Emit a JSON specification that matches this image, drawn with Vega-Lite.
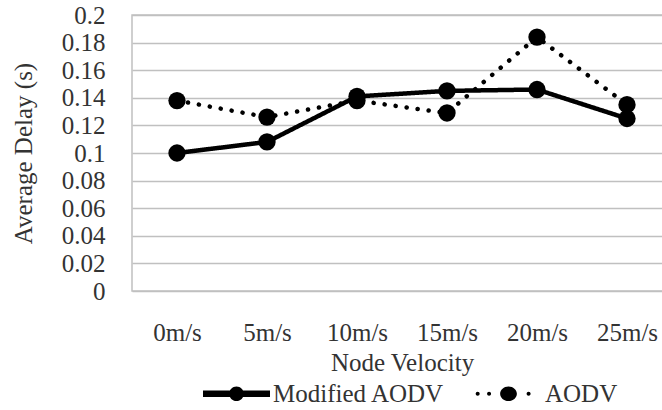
{
  "$schema": "https://vega.github.io/schema/vega-lite/v6.json",
  "width": 540,
  "height": 276,
  "autosize": {"type": "none"},
  "padding": {"left": 132, "top": 15, "right": -10, "bottom": 119},
  "background": "white",
  "config": {
    "view": {"stroke": "#c0c0c0", "strokeWidth": 1.5},
    "font": "Liberation Serif"
  },
  "data": {
    "values": [
      {"velocity": "0m/s", "series": "Modified AODV", "delay": 0.100},
      {"velocity": "5m/s", "series": "Modified AODV", "delay": 0.108},
      {"velocity": "10m/s", "series": "Modified AODV", "delay": 0.141},
      {"velocity": "15m/s", "series": "Modified AODV", "delay": 0.145},
      {"velocity": "20m/s", "series": "Modified AODV", "delay": 0.146},
      {"velocity": "25m/s", "series": "Modified AODV", "delay": 0.125},
      {"velocity": "0m/s", "series": "AODV", "delay": 0.138},
      {"velocity": "5m/s", "series": "AODV", "delay": 0.126},
      {"velocity": "10m/s", "series": "AODV", "delay": 0.138},
      {"velocity": "15m/s", "series": "AODV", "delay": 0.129},
      {"velocity": "20m/s", "series": "AODV", "delay": 0.184},
      {"velocity": "25m/s", "series": "AODV", "delay": 0.135}
    ]
  },
  "encoding": {
    "x": {
      "field": "velocity",
      "type": "nominal",
      "sort": ["0m/s", "5m/s", "10m/s", "15m/s", "20m/s", "25m/s"],
      "scale": {"type": "point", "padding": 0.5},
      "axis": {
        "title": "Node Velocity",
        "labelAngle": 0,
        "ticks": false,
        "domain": false,
        "grid": false,
        "labelFont": "Liberation Serif",
        "labelFontSize": 25,
        "labelColor": "#333333",
        "labelBaseline": "alphabetic",
        "labelPadding": 49,
        "titleFont": "Liberation Serif",
        "titleFontSize": 25,
        "titleFontWeight": "normal",
        "titleColor": "#333333",
        "titleBaseline": "alphabetic",
        "titleY": 79
      }
    },
    "y": {
      "field": "delay",
      "type": "quantitative",
      "scale": {"domain": [0, 0.2], "nice": false, "zero": true},
      "axis": {
        "title": "Average Delay (s)",
        "values": [0, 0.02, 0.04, 0.06, 0.08, 0.1, 0.12, 0.14, 0.16, 0.18, 0.2],
        "format": "~g",
        "ticks": false,
        "domain": false,
        "grid": true,
        "gridColor": "#c0c0c0",
        "gridWidth": 1.5,
        "labelFont": "Liberation Serif",
        "labelFontSize": 25,
        "labelColor": "#333333",
        "labelPadding": 27,
        "titleFont": "Liberation Serif",
        "titleFontSize": 25,
        "titleFontWeight": "normal",
        "titleColor": "#333333",
        "titleBaseline": "alphabetic",
        "titleAngle": -90,
        "titleAlign": "center",
        "titleX": -101,
        "titleY": 138
      }
    },
    "color": {
      "field": "series",
      "type": "nominal",
      "scale": {"domain": ["Modified AODV", "AODV"], "range": ["black", "black"]},
      "legend": {
        "title": null,
        "orient": "none",
        "legendX": 71,
        "legendY": 345,
        "direction": "horizontal",
        "symbolSize": 4489,
        "labelFont": "Liberation Serif",
        "labelFontSize": 25,
        "labelColor": "#333333",
        "labelLimit": 0,
        "labelOffset": 3,
        "columnPadding": 30,
        "encode": {
          "symbols": {
            "update": {
              "shape": {"signal": "datum.value === 'AODV' ? 'M-0.86,0 A0.06,0.06 0 1,1 -0.98,0 A0.06,0.06 0 1,1 -0.86,0 Z M-0.52,0 A0.06,0.06 0 1,1 -0.64,0 A0.06,0.06 0 1,1 -0.52,0 Z M0.25,0 A0.25,0.22 0 1,1 -0.25,0 A0.25,0.22 0 1,1 0.25,0 Z M0.66,0 A0.06,0.06 0 1,1 0.54,0 A0.06,0.06 0 1,1 0.66,0 Z' : 'M-1,-0.1 L1,-0.1 L1,0.1 L-1,0.1 Z M0.22,0 A0.22,0.22 0 1,1 -0.22,0 A0.22,0.22 0 1,1 0.22,0 Z'"},
              "fill": {"value": "black"},
              "fillOpacity": {"value": 1},
              "stroke": {"value": "transparent"},
              "strokeWidth": {"value": 0}
            }
          }
        }
      }
    }
  },
  "layer": [
    {
      "mark": {"type": "line", "strokeWidth": 4.5, "strokeCap": "round"},
      "encoding": {
        "strokeDash": {
          "field": "series",
          "type": "nominal",
          "scale": {"domain": ["Modified AODV", "AODV"], "range": [[1, 0], [0.1, 11]]},
          "legend": null
        }
      }
    },
    {
      "mark": {"type": "point", "filled": true, "shape": "circle", "size": 300, "opacity": 1},
      "encoding": {}
    }
  ]
}
